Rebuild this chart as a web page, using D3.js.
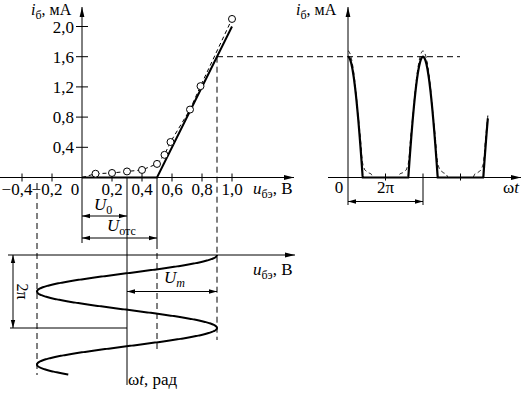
<!DOCTYPE html>
<html>
<head>
<meta charset="utf-8">
<script src="https://cdn.jsdelivr.net/npm/d3@7"></script>
<style>
body{margin:0;background:#fff}
svg{display:block}
</style>
</head>
<body>
<script>
//tick values of the input characteristic
var uTicks = [-0.4, -0.2, 0, 0.2, 0.4, 0.6, 0.8, 1.0];
var iTicks = [0.4, 0.8, 1.2, 1.6, 2.0];
//measured points (circles), volts / mA
var expU = [0, 0.09, 0.2, 0.3, 0.4, 0.5, 0.55, 0.59, 0.72, 0.79, 1.0];
var expI = [0, 0.05, 0.06, 0.08, 0.1, 0.18, 0.3, 0.47, 0.9, 1.21, 2.1];
//piecewise-linear approximation
var apprU = [0, 0.5, 1.0];
var apprI = [0, 0, 2.0];
//operating point
var U0 = 0.3, Um = 0.6, Uotc = 0.5, Imax = 1.6;
//angles (rad) where the drawn waveforms stop
var sineEnd = 3 * Math.PI + 0.86;
var pulseEnd = 4 * Math.PI - 0.85;
var wtTicks = [Math.PI, 3 * Math.PI];

var width = 523, height = 396;
var svg = d3.select("body").append("svg")
    .attr("width", width)
    .attr("height", height)
    .attr("font-family", "'Liberation Serif', 'Times New Roman', 'DejaVu Serif', serif");

var defs = svg.append("defs");
defs.append("marker").attr("id", "ax")
    .attr("viewBox", "0 0 10 6").attr("refX", 10).attr("refY", 3)
    .attr("markerWidth", 10).attr("markerHeight", 6)
    .attr("markerUnits", "userSpaceOnUse").attr("orient", "auto")
    .append("path").attr("d", "M0,0.6L10,3L0,5.4Z");
defs.append("marker").attr("id", "dim")
    .attr("viewBox", "0 0 8 6").attr("refX", 8).attr("refY", 3)
    .attr("markerWidth", 8).attr("markerHeight", 6)
    .attr("markerUnits", "userSpaceOnUse").attr("orient", "auto-start-reverse")
    .append("path").attr("d", "M0,0.8L8,3L0,5.2Z");

//scales
var x = d3.scaleLinear().domain([0, 1]).range([82, 232]);      //u, V
var y = d3.scaleLinear().domain([0, 2]).range([177.5, 26.5]);  //i, mA
var xt = d3.scaleLinear().domain([0, 2 * Math.PI]).range([348, 423]); //wt, right plot
var yt = d3.scaleLinear().domain([0, 2 * Math.PI]).range([255, 328]); //wt, bottom plot

var iExp = d3.scaleLinear().domain(expU).range(expI).clamp(true);
var iAppr = d3.scaleLinear().domain(apprU).range(apprI).clamp(true);

function seg(x1, y1, x2, y2, opt){
    opt = opt || {};
    var l = svg.append("line")
        .attr("x1", x1).attr("y1", y1).attr("x2", x2).attr("y2", y2)
        .attr("stroke", "#000")
        .attr("stroke-width", opt.w || 1);
    if (opt.dash) l.attr("stroke-dasharray", opt.dash);
    if (opt.end) l.attr("marker-end", "url(#" + opt.end + ")");
    if (opt.start) l.attr("marker-start", "url(#" + opt.start + ")");
    return l;
}

//text with italic / subscript parts
function label(px, py, parts, size){
    var t = svg.append("text").attr("x", px).attr("y", py)
        .attr("font-size", size || 15);
    var shift = 0;
    parts.forEach(function(p){
        var dy = (p.sub ? 4 : 0) - shift;
        shift = p.sub ? 4 : 0;
        var s = t.append("tspan")
            .attr("dy", dy)
            .attr("font-style", p.it ? "italic" : "normal")
            .text(p.t);
        if (p.sub) s.attr("font-size", 12);
    });
    return t;
}

function fmt(v){
    return (v < 0 ? "\u2212" : "") + Math.abs(v).toFixed(1).replace(".", ",");
}

var dashC = "6,4";

//construction lines
seg(x(U0 + Um), y(Imax), 460, y(Imax), {dash: dashC});
seg(x(U0 + Um), y(Imax), x(U0 + Um), 340, {dash: dashC});
seg(x(U0 - Um), 183, x(U0 - Um), 375, {dash: dashC});
seg(x(Uotc), y(0), x(Uotc), 243);
seg(x(Uotc), 243, x(Uotc), 350, {dash: dashC});
seg(x(U0), y(0), x(U0), 385);

//left axes
seg(0, y(0), 294, y(0), {end: "ax"});
seg(x(0), 243, x(0), 7, {end: "ax"});
iTicks.forEach(function(v){
    seg(x(0) - 6, y(v), x(0) + 6, y(v));
    svg.append("text").attr("x", 74).attr("y", y(v) + 6)
        .attr("text-anchor", "end").attr("font-size", 17).text(fmt(v));
});
uTicks.forEach(function(v){
    if (v !== 0) seg(x(v), y(0) - 4, x(v), y(0) + 4);
    svg.append("text")
        .attr("x", v === 0 ? x(v) - 7 : x(v) - (v < 0 ? 5 : 0))
        .attr("y", 195)
        .attr("text-anchor", "middle").attr("font-size", 17)
        .text(v === 0 ? "0" : fmt(v));
});
label(31, 15, [{t: "i", it: true}, {t: "б", sub: true}, {t: ", мА"}], 16);
label(253, 194, [{t: "u", it: true}, {t: "бэ", sub: true}, {t: ", В"}], 17);

//U0 and Uotc dimensions
seg(x(0), 216, x(U0), 216, {start: "dim", end: "dim"});
seg(x(0), 238, x(Uotc), 238, {start: "dim", end: "dim"});
label(94, 210, [{t: "U", it: true}, {t: "0", sub: true}], 17);
label(107, 231, [{t: "U", it: true}, {t: "отс", sub: true}], 17);

//characteristic: approximation and measured curve
var line = d3.line().x(function(d){ return x(d[0]); }).y(function(d){ return y(d[1]); });
svg.append("path")
    .datum(apprU.map(function(u, i){ return [u, apprI[i]]; }))
    .attr("d", line).attr("fill", "none").attr("stroke", "#000").attr("stroke-width", 2);
svg.append("path")
    .datum(expU.map(function(u, i){ return [u, expI[i]]; }))
    .attr("d", line).attr("fill", "none").attr("stroke", "#000")
    .attr("stroke-width", 1).attr("stroke-dasharray", "4,3");
svg.selectAll(".pt")
    .data(expU.slice(1))
    .enter().append("circle")
    .attr("class", "pt")
    .attr("cx", function(d){ return x(d); })
    .attr("cy", function(d, i){ return y(expI[i + 1]); })
    .attr("r", 3.5)
    .attr("fill", "#fff").attr("stroke", "#000");

//bottom: input voltage vs wt
seg(8, yt(0), 295, yt(0), {end: "ax"});
seg(10, yt(2 * Math.PI), x(U0), yt(2 * Math.PI));
seg(13, yt(0), 13, yt(2 * Math.PI), {start: "dim", end: "dim"});
seg(x(U0), 291.5, x(U0 + Um), 291.5, {start: "dim", end: "dim"});
var sine = d3.range(0, sineEnd, 0.02).concat([sineEnd]);
svg.append("path")
    .datum(sine)
    .attr("d", d3.line()
        .x(function(a){ return x(U0 + Um * Math.cos(a)); })
        .y(function(a){ return yt(a); }))
    .attr("fill", "none").attr("stroke", "#000").attr("stroke-width", 2);
label(253, 275, [{t: "u", it: true}, {t: "бэ", sub: true}, {t: ", В"}], 17);
label(164, 283, [{t: "U", it: true}, {t: "m", it: true, sub: true}], 17);
svg.append("text")
    .attr("transform", "translate(17," + yt(Math.PI) + ") rotate(90)")
    .attr("text-anchor", "middle").attr("font-size", 16).text("2π");
label(128, 385, [{t: "ω"}, {t: "t", it: true}, {t: ", рад"}], 17);

//right: base current vs wt
seg(328, y(0), 521, y(0), {end: "ax"});
seg(xt(0), 205, xt(0), 7, {end: "ax"});
wtTicks.forEach(function(a){ seg(xt(a), y(0) - 4, xt(a), y(0) + 3); });
seg(xt(2 * Math.PI), y(0) - 4, xt(2 * Math.PI), 205);
seg(xt(0), 201.5, xt(2 * Math.PI), 201.5, {start: "dim", end: "dim"});
svg.append("text").attr("x", 339).attr("y", 193).attr("text-anchor", "middle")
    .attr("font-size", 17).text("0");
svg.append("text").attr("x", xt(Math.PI)).attr("y", 193).attr("text-anchor", "middle")
    .attr("font-size", 17).text("2π");
label(503, 193, [{t: "ω"}, {t: "t", it: true}], 17);
label(296, 15, [{t: "i", it: true}, {t: "б", sub: true}, {t: ", мА"}], 16);

var wt = d3.range(0, pulseEnd, 0.02).concat([pulseEnd]);
var wave = function(f){
    return d3.line()
        .x(function(a){ return xt(a); })
        .y(function(a){ return y(f(U0 + Um * Math.cos(a))); });
};
svg.append("path").datum(wt).attr("d", wave(iExp))
    .attr("fill", "none").attr("stroke", "#000")
    .attr("stroke-width", 1).attr("stroke-dasharray", "4,3");
svg.append("path").datum(wt).attr("d", wave(iAppr))
    .attr("fill", "none").attr("stroke", "#000").attr("stroke-width", 2.2);
</script>
</body>
</html>
